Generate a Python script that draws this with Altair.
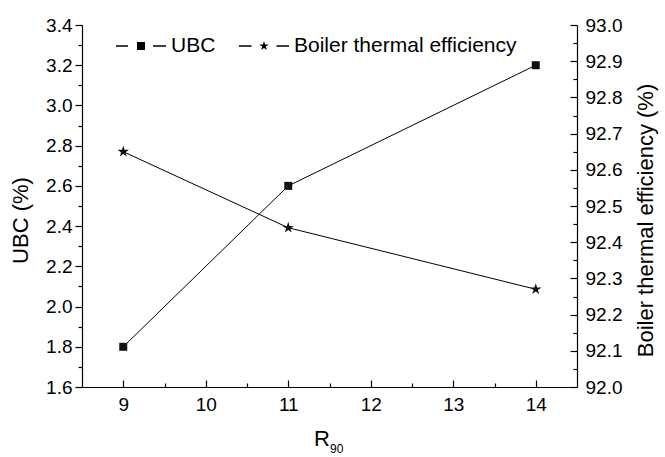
import altair as alt
import pandas as pd

# ---- data ----
r90 = [9, 11, 14]
ubc = [1.8, 2.6, 3.2]
eff = [92.65, 92.44, 92.27]
series_names = ["UBC", "Boiler thermal efficiency"]

x_major = [9, 10, 11, 12, 13, 14]
x_minor = [9.5, 10.5, 11.5, 12.5, 13.5]
ubc_major = [1.6, 1.8, 2.0, 2.2, 2.4, 2.6, 2.8, 3.0, 3.2, 3.4]
ubc_minor = [1.7, 1.9, 2.1, 2.3, 2.5, 2.7, 2.9, 3.1, 3.3]
eff_major = [92.0, 92.1, 92.2, 92.3, 92.4, 92.5, 92.6, 92.7, 92.8, 92.9, 93.0]
eff_minor = [92.05, 92.15, 92.25, 92.35, 92.45, 92.55, 92.65, 92.75, 92.85, 92.95]

df = pd.DataFrame({"R90": r90, "UBC": ubc, "EFF": eff})

W, H = 495, 362
FONT = "Liberation Sans"
STAR_PTS = [(0, -1), (0.2245, -0.309), (0.951, -0.309), (0.363, 0.118), (0.588, 0.809),
            (0, 0.382), (-0.588, 0.809), (-0.363, 0.118), (-0.951, -0.309), (-0.2245, -0.309)]


def star_path(s):
    return "M" + "L".join(f"{x*s:.4f},{y*s:.4f}" for x, y in STAR_PTS) + "Z"


STAR = star_path(1)
DASHES_U = "M-1,-0.026H-0.52V0.026H-1ZM0.48,-0.026H1V0.026H0.48Z"
DASHES_E = "M-1,-0.026H-0.5V0.026H-1ZM0.5,-0.026H1V0.026H0.5Z"
LEG_UBC = DASHES_U + "M-0.16,-0.16H0.16V0.16H-0.16Z"
LEG_EFF = DASHES_E + star_path(0.2)

xscale = alt.Scale(domain=[8.5, 14.5], nice=False, zero=False)
ubc_scale = alt.Scale(domain=[1.6, 3.4], nice=False, zero=False)
eff_scale = alt.Scale(domain=[92.0, 93.0], nice=False, zero=False)

lab = dict(labelFont=FONT, labelColor="black", titleFont=FONT, titleColor="black",
           titleFontWeight="normal")

x_axis_main = alt.Axis(values=x_major, ticks=False, labelFontSize=19, labelPadding=8,
                       domainColor="black", domainWidth=1.2, title=None, grid=False,
                       labelFlush=False, **lab)
y_axis_left = alt.Axis(values=ubc_major, format=".1f", tickSize=7, tickColor="black",
                       tickWidth=1.2, labelFontSize=19, labelPadding=3, domainColor="black",
                       domainWidth=1.2, title="UBC (%)", titleFontSize=22,
                       titleX=-62, titleY=195, titleAngle=270, titleAlign="center",
                       titleBaseline="middle",
                       grid=False, labelFlush=False, **lab)
y_axis_right = alt.Axis(orient="right", values=eff_major, format=".1f", ticks=False,
                        labelFontSize=19, labelPadding=8, domainColor="black", domainWidth=1.2,
                        title="Boiler thermal efficiency (%)", titleFontSize=22,
                        titleX=68, titleY=195, titleAngle=270, titleAlign="center",
                        titleBaseline="middle", grid=False, labelFlush=False, **lab)

base_u = alt.Chart(df).encode(
    x=alt.X("R90:Q", scale=xscale, axis=x_axis_main),
    y=alt.Y("UBC:Q", scale=ubc_scale, axis=y_axis_left),
)
ubc_layer = base_u.mark_line(color="black", strokeWidth=1) + base_u.mark_point(
    shape="square", filled=True, size=64, color="#111111", opacity=1)

base_e = alt.Chart(df).encode(
    x=alt.X("R90:Q", scale=xscale, axis=None),
    y=alt.Y("EFF:Q", scale=eff_scale, axis=y_axis_right),
)
eff_layer = base_e.mark_line(color="black", strokeWidth=1) + base_e.mark_point(
    shape=STAR, filled=True, size=140, color="#111111", opacity=1)

tick_common = dict(labels=False, domain=False, grid=False, tickColor="black",
                   tickWidth=1.2, title=None)

helper1 = alt.Chart(df).mark_point(opacity=0).encode(
    x=alt.X("R90:Q", scale=xscale,
            axis=alt.Axis(orient="top", offset=-H, values=x_major, tickSize=7, **tick_common)),
    y=alt.Y("UBC:Q", scale=ubc_scale,
            axis=alt.Axis(orient="left", values=ubc_minor, tickSize=4, **tick_common)),
)
helper2 = alt.Chart(df).mark_point(opacity=0).encode(
    x=alt.X("R90:Q", scale=xscale,
            axis=alt.Axis(orient="top", offset=-H, values=x_minor, tickSize=4, **tick_common)),
    y=alt.Y("EFF:Q", scale=eff_scale,
            axis=alt.Axis(orient="left", offset=-W, values=eff_major, tickSize=7, **tick_common)),
)
helper3 = alt.Chart(df).mark_point(opacity=0).encode(
    x=alt.X("R90:Q", scale=xscale, axis=None),
    y=alt.Y("EFF:Q", scale=eff_scale,
            axis=alt.Axis(orient="left", offset=-W, values=eff_minor, tickSize=4, **tick_common)),
)

# legend from a layer whose points are all invalid (filtered); legend from explicit domain
leg_df = pd.DataFrame({"series": series_names, "v": [None, None]})
legend_layer = alt.Chart(leg_df).mark_point(filled=True, opacity=1, color="black").encode(
    x=alt.X("v:Q", scale=xscale, axis=None),
    y=alt.Y("v:Q", axis=None),
    shape=alt.Shape("series:N",
                    scale=alt.Scale(domain=series_names, range=[LEG_UBC, LEG_EFF]),
                    legend=alt.Legend(orient="none", legendX=33, legendY=-5,
                                      direction="horizontal", title=None,
                                      symbolSize=2500, symbolFillColor="black",
                                      symbolOpacity=1,
                                      labelFont=FONT, labelFontSize=21, labelColor="black",
                                      labelOffset=4, columnPadding=20, padding=0,
                                      labelLimit=400)),
)

xt_df = pd.DataFrame({"t": ["R"], "s": ["90"]})
r_text = alt.Chart(xt_df).mark_text(font=FONT, fontSize=22, color="black", align="center",
                                    baseline="alphabetic").encode(
    text="t:N", x=alt.value(240), y=alt.value(421))
sub_text = alt.Chart(xt_df).mark_text(font=FONT, fontSize=12, color="black", align="left",
                                      baseline="alphabetic").encode(
    text="s:N", x=alt.value(248), y=alt.value(428))

chart = alt.layer(ubc_layer, eff_layer, helper1, helper2, helper3, legend_layer,
                  r_text, sub_text).resolve_scale(
    y="independent").resolve_axis(x="independent", y="independent").properties(
    width=W, height=H,
    autosize=alt.AutoSizeParams(type="none"),
    padding={"left": 82, "top": 25, "right": 88, "bottom": 70},
    background="white",
).configure_view(stroke=None)

chart.save("out.html", embed_options={"renderer": "svg", "actions": False})
